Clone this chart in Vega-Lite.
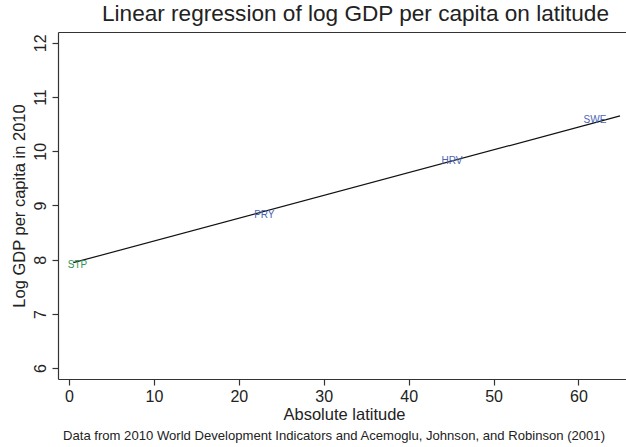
{
  "$schema": "https://vega.github.io/schema/vega-lite/v6.json",
  "autosize": {"type": "none"},
  "padding": {"left": 58, "top": 32, "right": 0, "bottom": 68},
  "width": 568,
  "height": 347,
  "background": "white",
  "config": {
    "view": {"stroke": null},
    "font": "Liberation Sans",
    "axis": {"grid": false, "domainColor": "#333333", "tickColor": "#333333", "labelColor": "#222222", "titleColor": "#222222", "labelFont": "Liberation Sans", "titleFont": "Liberation Sans", "titleFontWeight": "normal", "labelFontSize": 16, "titleFontSize": 16.5, "tickSize": 6, "domainWidth": 1.2, "tickWidth": 1.2}
  },
  "title": {
    "text": "Data from 2010 World Development Indicators and Acemoglu, Johnson, and Robinson (2001)",
    "orient": "bottom",
    "anchor": "middle",
    "frame": "group",
    "dx": -8,
    "offset": 7,
    "fontSize": 13.1,
    "fontWeight": "normal",
    "font": "Liberation Sans",
    "color": "#222222"
  },
  "datasets": {
    "fit": [
      {"lat": 0.5, "fit": 7.945},
      {"lat": 64.9, "fit": 10.652}
    ],
    "countries": [
      {"code": "STP", "lat": 1.0, "lgdp": 7.897},
      {"code": "PRY", "lat": 23.0, "lgdp": 8.832},
      {"code": "HRV", "lat": 45.1, "lgdp": 9.818},
      {"code": "SWE", "lat": 61.95, "lgdp": 10.573}
    ]
  },
  "layer": [
    {
      "data": {"name": "fit"},
      "mark": {"type": "line", "color": "#111111", "strokeWidth": 1.2},
      "encoding": {
        "x": {"field": "lat", "type": "quantitative",
          "scale": {"domain": [-1.3, 65.6], "nice": false, "zero": false},
          "axis": {"orient": "bottom", "title": "Absolute latitude", "values": [0, 10, 20, 30, 40, 50, 60], "labelPadding": 3, "titlePadding": 2, "titleX": 286}},
        "y": {"field": "fit", "type": "quantitative",
          "scale": {"domain": [5.8, 12.2], "nice": false, "zero": false},
          "axis": {"title": "Log GDP per capita in 2010", "values": [6, 7, 8, 9, 10, 11, 12], "labelAngle": -90, "labelAlign": "center", "labelBaseline": "bottom", "labelPadding": 4, "titlePadding": 5}}
      }
    },
    {
      "data": {"name": "countries"},
      "mark": {"type": "text", "fontSize": 10, "font": "Liberation Sans", "align": "center", "baseline": "middle"},
      "encoding": {
        "x": {"field": "lat", "type": "quantitative",
          "scale": {"domain": [-1.3, 65.6], "nice": false, "zero": false},
          "axis": {"orient": "top", "labels": false, "ticks": false, "title": "Linear regression of log GDP per capita on latitude", "titleFontSize": 22.6, "titlePadding": 7, "titleX": 297}},
        "y": {"field": "lgdp", "type": "quantitative",
          "scale": {"domain": [5.8, 12.2], "nice": false, "zero": false}},
        "text": {"field": "code", "type": "nominal"},
        "color": {"field": "code", "type": "nominal",
          "scale": {"domain": ["STP", "PRY", "HRV", "SWE"], "range": ["#2f9450", "#4a64b4", "#4a64b4", "#4a64b4"]},
          "legend": null}
      }
    }
  ],
  "resolve": {"axis": {"x": "independent"}}
}
